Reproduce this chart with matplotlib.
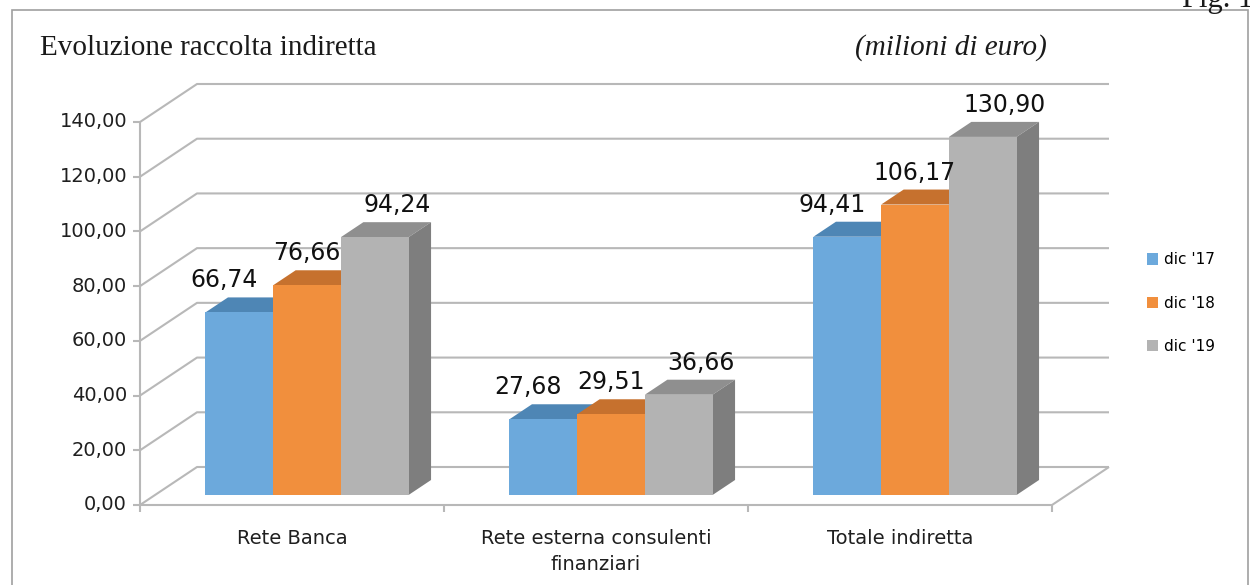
import matplotlib.pyplot as plt
from matplotlib.patches import Polygon, Rectangle, Patch

categories = ['Rete Banca', 'Rete esterna consulenti\nfinanziari', 'Totale indiretta']
series = ["dic '17", "dic '18", "dic '19"]
dic17 = [66.74, 27.68, 94.41]
dic18 = [76.66, 29.51, 106.17]
dic19 = [94.24, 36.66, 130.90]
yticks = [0, 20, 40, 60, 80, 100, 120, 140]

# front / top / side shades for each series
shades = [('#6CA9DC', '#4E86B5', '#4A7BA8'),
          ('#F18F3D', '#C6712E', '#B5662A'),
          ('#B3B3B3', '#8F8F8F', '#7E7E7E')]
grid_c = '#B8B8B8'

W, H = 1250, 585
fig = plt.figure(figsize=(W / 100, H / 100), dpi=100)
# axes = front plane of the 3d box
ax_l, ax_r, ax_b, ax_t = 140, 1052, 505, 122
ax = fig.add_axes([ax_l / W, (H - ax_b) / H, (ax_r - ax_l) / W, (ax_b - ax_t) / H])
ax.set_xlim(0, 3)
ax.set_ylim(0, 140)
ax.axis('off')

PX = 3 / (ax_r - ax_l)        # data units per pixel (x)
PY = 140 / (ax_b - ax_t)      # data units per pixel (y)
DX, DY = 57 * PX, 38 * PY     # full depth of the box


def P(x, y, z):
    return (x + z * DX, y + z * DY)


def line(pts, **kw):
    xs, ys = zip(*pts)
    ax.plot(xs, ys, color=grid_c, lw=1.5, clip_on=False, solid_capstyle='butt', **kw)


# back wall gridlines, left wall diagonals, y ticks
for v in yticks:
    line([P(0, v, 0), P(0, v, 1), P(3, v, 1)])
    line([(-7 * PX, v), (0, v)])
    ax.text(-13 * PX, v, f'{v:.2f}'.replace('.', ','), ha='right', va='center',
            fontsize=14, color='#1f1f1f')
line([(0, 0), (0, 140)])
# floor
line([P(0, 0, 0), P(3, 0, 0), P(3, 0, 1)])
for k in range(4):
    line([(k, 0), (k, -7 * PY)])

# bars
bw = 0.2227
z0, z1 = 0.263, 0.658
nudges = [-15, 0, 22]
values = [dic17, dic18, dic19]
for c in range(3):
    for s in range(3):
        v = values[s][c]
        fc, tc, sc = shades[s]
        x0 = c + 0.5 - 1.5 * bw + s * bw
        x1 = x0 + bw
        top = [P(x0, v, z0), P(x1, v, z0), P(x1, v, z1), P(x0, v, z1)]
        side = [P(x1, 0, z0), P(x1, 0, z1), P(x1, v, z1), P(x1, v, z0)]
        front = [P(x0, 0, z0), P(x1, 0, z0), P(x1, v, z0), P(x0, v, z0)]
        for pts, col in ((top, tc), (side, sc), (front, fc)):
            ax.add_patch(Polygon(pts, closed=True, facecolor=col, edgecolor='none',
                                 clip_on=False, zorder=3))
        lx, ly = P((x0 + x1) / 2, v, z0)
        ax.text(lx + nudges[s] * PX, v + z1 * DY + 5 * PY, f'{v:.2f}'.replace('.', ','),
                ha='center', va='bottom', fontsize=17, color='#111111', zorder=5)

# category labels
for c, name in enumerate(categories):
    ax.text(c + 0.5, -24 * PY, name, ha='center', va='top', fontsize=14,
            color='#1f1f1f', linespacing=1.45)

# legend
handles = [Patch(facecolor=shades[s][0], edgecolor='none', label=series[s]) for s in range(3)]
fig.legend(handles=handles, loc='center left', bbox_to_anchor=(1133 / W, 1 - 303 / H),
           frameon=False, fontsize=11, handlelength=0.75, handleheight=0.75,
           handletextpad=0.35, labelspacing=1.85)

# frame and titles
fig.patches.append(Rectangle((12 / W, -0.05), (1248 - 12) / W, 1.05 - 10.5 / H,
                             transform=fig.transFigure, fill=False,
                             edgecolor='#A0A0A0', lw=1.2))
fig.text(40 / W, 1 - 55 / H, 'Evoluzione raccolta indiretta', family='Liberation Serif',
         fontsize=21, va='baseline', ha='left', color='#1a1a1a')
fig.text(855 / W, 1 - 55 / H, '(milioni di euro)', family='Liberation Serif',
         style='italic', fontsize=21, va='baseline', ha='left', color='#1a1a1a')
fig.text(1182 / W, 1 - 7 / H, 'Fig. 1', family='Liberation Serif', fontsize=22,
         va='baseline', ha='left', color='#1a1a1a')

fig.savefig('out.png', dpi=100)
